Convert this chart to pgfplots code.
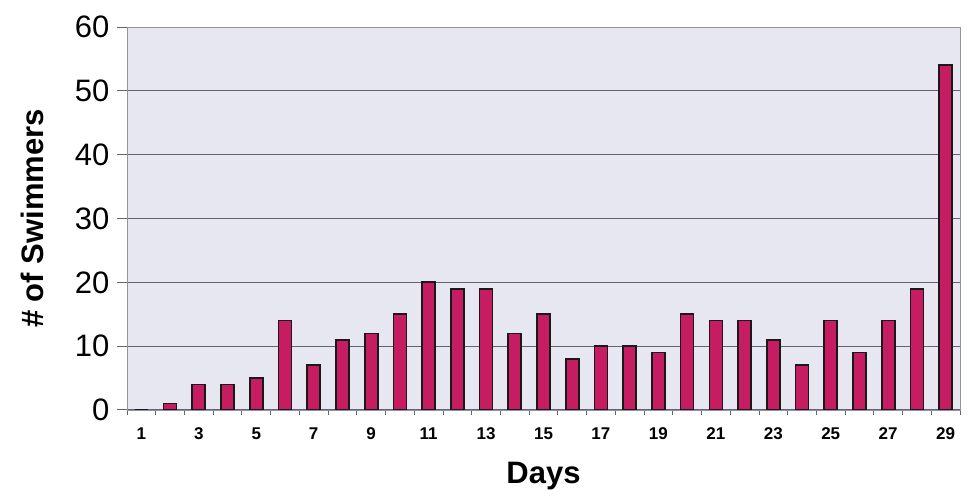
\documentclass[border=0pt]{standalone}
\usepackage{fontspec}
\setmainfont{Liberation Sans}
\usepackage{pgfplots}
\pgfplotsset{compat=1.18}

\definecolor{barfill}{RGB}{198,28,98}
\definecolor{plotbg}{RGB}{230,231,240}
\definecolor{gridc}{RGB}{100,100,112}

\begin{document}
\begin{tikzpicture}
  \begin{axis}[
    scale only axis,
    width=833pt,
    height=383pt,
    xmin=0.5, xmax=29.5,
    ymin=0, ymax=60,
    axis background/.style={fill=plotbg},
    axis line style={gridc!70},
    xtick={1,3,...,29},
    minor xtick={0.5,1.5,...,29.5},
    ytick={0,10,...,60},
    xtick pos=bottom,
    ytick pos=left,
    ymajorgrids,
    grid style={gridc, line width=1pt},
    major x tick style={draw=none},
    minor x tick style={gridc, line width=0.8pt},
    major y tick style={gridc, line width=1pt},
    tick align=outside,
    major tick length=10pt,
    minor tick length=5pt,
    /pgf/number format/assume math mode=true,
    xticklabel style={font=\bfseries\fontsize{17}{17}\selectfont, yshift=-4pt},
    yticklabel style={font=\fontsize{31}{31}\selectfont, xshift=-4pt},
    xlabel={Days},
    ylabel={\# of Swimmers},
    xlabel style={font=\bfseries\fontsize{31}{31}\selectfont, yshift=-16pt},
    ylabel style={font=\bfseries\fontsize{31}{31}\selectfont, yshift=24pt},
  ]
  % swimmers per day
  \addplot[ybar, bar width=13pt, fill=barfill, draw=black!90, line width=1.7pt] coordinates {
    (1,0) (2,1) (3,4) (4,4) (5,5) (6,14) (7,7) (8,11) (9,12) (10,15)
    (11,20) (12,19) (13,19) (14,12) (15,15) (16,8) (17,10) (18,10) (19,9) (20,15)
    (21,14) (22,14) (23,11) (24,7) (25,14) (26,9) (27,14) (28,19) (29,54)
  };
  \end{axis}
  \path ([xshift=-127pt,yshift=-87pt]current axis.south west)
    rectangle ([xshift=8pt,yshift=27pt]current axis.north east);
\end{tikzpicture}
\end{document}
